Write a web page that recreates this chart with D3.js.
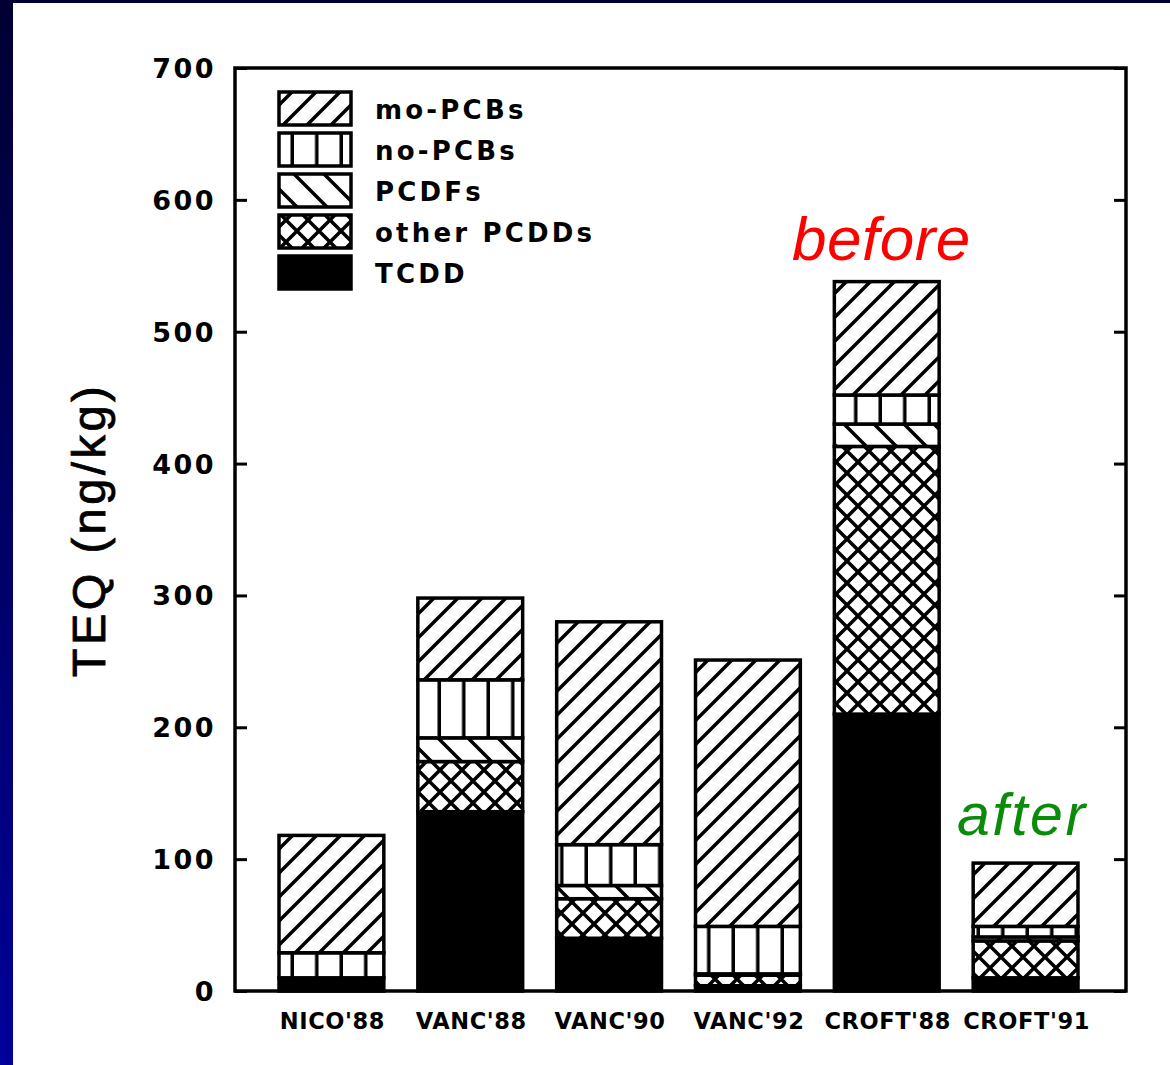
<!DOCTYPE html>
<html>
<head>
<meta charset="utf-8">
<script src="https://cdn.jsdelivr.net/npm/d3@7"></script>
<style>
  html, body { margin: 0; padding: 0; background: #fff; }
  svg { display: block; }
</style>
</head>
<body>
<svg id="chart" width="1170" height="1065"></svg>
<script>
// ---- data ----
const categories = ["NICO'88", "VANC'88", "VANC'90", "VANC'92", "CROFT'88", "CROFT'91"];
const seriesNames = ["TCDD", "other PCDDs", "PCDFs", "no-PCBs", "mo-PCBs"];
const TCDD       = [10, 136, 40, 4, 210, 10];
const otherPCDDs = [0, 38, 30, 8, 203, 28];
const PCDFs      = [0, 18, 10, 1, 17, 3];
const noPCBs     = [19, 44, 31, 36, 22, 8];
const moPCBs     = [89, 62, 169, 202, 86, 48];
const yTicks     = [0, 100, 200, 300, 400, 500, 600, 700];
const legendOrder = ["mo-PCBs", "no-PCBs", "PCDFs", "other PCDDs", "TCDD"];

(function () {
const seriesValues = [TCDD, otherPCDDs, PCDFs, noPCBs, moPCBs];
const table = categories.map((c, i) => {
  const row = { cat: c };
  seriesNames.forEach((s, j) => row[s] = seriesValues[j][i]);
  return row;
});

const svg = d3.select("#chart");
const defs = svg.append("defs");

// background frame gradient
const grad = defs.append("linearGradient").attr("id", "bg").attr("x1", 0).attr("y1", 0).attr("x2", 0).attr("y2", 1);
grad.append("stop").attr("offset", "0%").attr("stop-color", "#000033");
grad.append("stop").attr("offset", "100%").attr("stop-color", "#00009a");
svg.append("rect").attr("width", 1170).attr("height", 1065).attr("fill", "url(#bg)");
svg.append("rect").attr("x", 13).attr("y", 3).attr("width", 1157).attr("height", 1062).attr("fill", "#fff");

// patterns
function pat(id, size, draw) {
  const p = defs.append("pattern").attr("id", id).attr("patternUnits", "userSpaceOnUse")
    .attr("width", size).attr("height", size);
  p.append("rect").attr("width", size).attr("height", size).attr("fill", "#fff");
  draw(p, size);
}
const sw = 3.5;
pat("p-mo", 24, (p, s) => {
  p.append("path").attr("d", `M0,${s} L${s},0 M${-s/2},${s/2} L${s/2},${-s/2} M${s/2},${s*1.5} L${s*1.5},${s/2}`)
    .attr("stroke", "#000").attr("stroke-width", sw);
});
pat("p-no", 24.5, (p, s) => {
  p.append("path").attr("d", `M${s-1.5},0 V${s}`).attr("stroke", "#000").attr("stroke-width", sw + 0.5);
});
pat("p-pcdf", 30, (p, s) => {
  p.append("path").attr("d", `M0,0 L${s},${s} M${-s/2},${s/2} L${s/2},${s*1.5} M${s/2},${-s/2} L${s*1.5},${s/2}`)
    .attr("stroke", "#000").attr("stroke-width", sw);
});
pat("p-pcdd", 22, (p, s) => {
  p.append("path").attr("d", `M0,0 L${s},${s} M0,${s} L${s},0`)
    .attr("stroke", "#000").attr("stroke-width", sw);
});
const fills = {
  "mo-PCBs": "url(#p-mo)",
  "no-PCBs": "url(#p-no)",
  "PCDFs": "url(#p-pcdf)",
  "other PCDDs": "url(#p-pcdd)",
  "TCDD": "#000"
};

// scales
const pL = 235, pR = 1126, pT = 68, pB = 991;
const x = d3.scaleBand().domain(categories).range([262, 1095]).paddingInner(0.245).paddingOuter(0.1225);
const y = d3.scaleLinear().domain([0, 700]).range([pB, pT]);

// bars
const stacked = d3.stack().keys(seriesNames)(table);
const g = svg.append("g");
stacked.forEach(layer => {
  g.selectAll(null).data(layer.filter(d => d[1] - d[0] > 0)).join("rect")
    .attr("x", d => x(d.data.cat))
    .attr("y", d => y(d[1]))
    .attr("width", x.bandwidth())
    .attr("height", d => y(d[0]) - y(d[1]))
    .attr("fill", fills[layer.key])
    .attr("stroke", "#000")
    .attr("stroke-width", 3.5);
});

// frame / axes
const fontTick = "'DejaVu Sans', sans-serif";
const axL = svg.append("g").attr("transform", `translate(${pL},0)`)
  .call(d3.axisRight(y).tickValues(yTicks).tickSize(12).tickFormat(""));
const axR = svg.append("g").attr("transform", `translate(${pR},0)`)
  .call(d3.axisLeft(y).tickValues(yTicks).tickSize(12).tickFormat(""));
[axL, axR].forEach(a => {
  a.select(".domain").remove();
  a.selectAll(".tick line").attr("stroke", "#000").attr("stroke-width", 3);
});
svg.append("rect").attr("x", pL).attr("y", pT).attr("width", pR - pL).attr("height", pB - pT)
  .attr("fill", "none").attr("stroke", "#000").attr("stroke-width", 3.5);

// y tick labels
svg.append("g").selectAll("text").data(yTicks).join("text")
  .attr("x", 216).attr("y", d => y(d) + 10)
  .attr("text-anchor", "end")
  .attr("font-family", fontTick).attr("font-weight", "bold").attr("font-size", 27)
  .attr("letter-spacing", 2.5)
  .text(d => d);

// x labels
svg.append("g").selectAll("text").data(categories).join("text")
  .attr("x", d => x(d) + x.bandwidth() / 2 + 1).attr("y", 1029)
  .attr("text-anchor", "middle")
  .attr("font-family", fontTick).attr("font-weight", "bold").attr("font-size", 22.5)
  .attr("letter-spacing", 0.6)
  .text(d => d);

// y title
svg.append("text")
  .attr("transform", "translate(105,530) rotate(-90)")
  .attr("text-anchor", "middle")
  .attr("font-family", "'Liberation Sans', Arial, sans-serif").attr("font-size", 47)
  .attr("letter-spacing", 3.5)
  .attr("stroke", "#000").attr("stroke-width", 0.8)
  .text("TEQ (ng/kg)");

// legend
const lg = svg.append("g");
legendOrder.forEach((name, i) => {
  const yy = 92 + i * 41;
  lg.append("rect").attr("x", 279).attr("y", yy).attr("width", 72).attr("height", 33)
    .attr("fill", fills[name]).attr("stroke", "#000").attr("stroke-width", 3.5);
  lg.append("text").attr("x", 375).attr("y", yy + 27)
    .attr("font-family", fontTick).attr("font-weight", "bold").attr("font-size", 26)
    .attr("letter-spacing", 3.2)
    .text(name);
});

// annotations
svg.append("text").attr("x", 792).attr("y", 260)
  .attr("font-family", "'Liberation Sans', Arial, sans-serif").attr("font-style", "italic")
  .attr("font-size", 62).attr("fill", "#ff0000").attr("letter-spacing", 0.5).text("before");
svg.append("text").attr("x", 957).attr("y", 835)
  .attr("font-family", "'Liberation Sans', Arial, sans-serif").attr("font-style", "italic")
  .attr("font-size", 59).attr("fill", "#0a8c0a").attr("letter-spacing", 2.5).text("after");
})();
</script>
</body>
</html>
